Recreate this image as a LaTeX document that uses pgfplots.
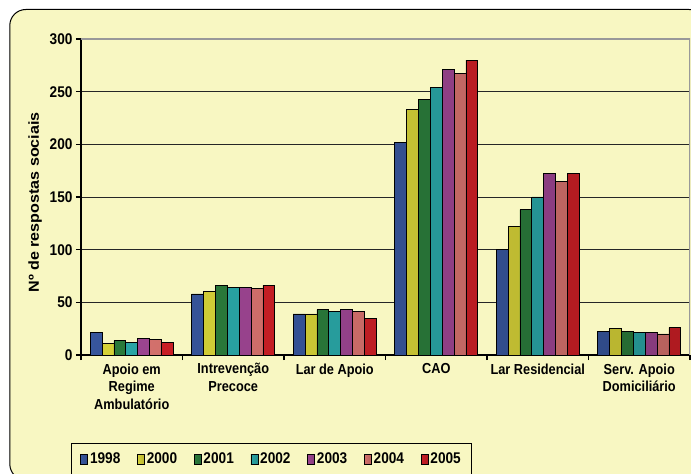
\documentclass[border=0pt]{standalone}
\usepackage{fontspec}
\setmainfont{Liberation Sans}[FakeStretch=0.88]
\newfontfamily\ylfont{Liberation Sans}[FakeStretch=1.11]
\usepackage{pgfplots}
\pgfplotsset{compat=1.18}
\definecolor{bg}{RGB}{248,247,194}
\definecolor{c1}{RGB}{60,93,170}
\definecolor{c2}{RGB}{232,227,60}
\definecolor{c3}{RGB}{46,133,64}
\definecolor{c4}{RGB}{45,179,179}
\definecolor{c5}{RGB}{169,74,156}
\definecolor{c6}{RGB}{229,122,117}
\definecolor{c7}{RGB}{218,33,40}
\pgfplotsset{
  shbar/.style={draw=black, line width=0.8pt, left color=#1!92!black, middle color=#1!88!white, right color=#1!80!black},
}
\begin{document}
\begin{tikzpicture}[x=1pt,y=1pt]
\useasboundingbox (0,0) rectangle (691,474);
\draw[fill=bg, line width=1pt, rounded corners=16pt] (9.8,-6) rectangle (705,464.5);
\begin{axis}[
  at={(81pt,119pt)}, anchor=south west,
  scale only axis, width=609pt, height=316pt,
  xmin=-0.5, xmax=5.5, ymin=0, ymax=300,
  ybar=0pt, bar width=0.117,
  axis x line*=bottom, axis y line*=left,
  x axis line style={-, line width=1.6pt},
  y axis line style={-, line width=1.6pt},
  xtick={-0.5,0.5,1.5,2.5,3.5,4.5,5.5},
  x tick label as interval,
  xticklabels={{Apoio em\\Regime\\Ambulatório},{Intrevenção\\Precoce},{Lar de Apoio},{CAO},{Lar Residencial},{Serv. Apoio\\Domiciliário}},
  ytick={0,50,...,300},
  tick align=outside, major tick length=5pt,
  tick style={black, line width=1.2pt},
  ymajorgrids, grid style={black!85, line width=0.8pt},
  xticklabel style={align=center, anchor=north, font=\fontsize{14.5}{17.5}\selectfont\bfseries},
  yticklabel style={font=\fontsize{15.5}{18}\selectfont\bfseries},
  /pgf/number format/assume math mode=true,
  ylabel={Nº de respostas sociais},
  every axis y label/.style={at={(rel axis cs:-0.0755,0.483)}, rotate=90, anchor=center, font=\ylfont\fontsize{14.5}{17}\selectfont\bfseries},
  legend columns=7,
  legend style={at={(-0.0164,-0.2775)}, anchor=north west, draw=black, line width=0.8pt, fill=none,
    inner xsep=9pt, inner ysep=8pt,
    font=\fontsize{15.5}{18}\selectfont\bfseries,
    /tikz/every even column/.append style={column sep=14.8pt}},
  legend image code/.code={\draw[#1,draw=black,line width=0.6pt] (0pt,-5pt) rectangle (7pt,5pt);},
]
\addplot[shbar=c1] coordinates {(0,21) (1,58) (2,39) (3,202) (4,100) (5,22)};
\addplot[shbar=c2] coordinates {(0,11) (1,60) (2,39) (3,233) (4,122) (5,25)};
\addplot[shbar=c3] coordinates {(0,14) (1,66) (2,43) (3,243) (4,138) (5,22)};
\addplot[shbar=c4] coordinates {(0,12) (1,64) (2,41) (3,254) (4,150) (5,21)};
\addplot[shbar=c5] coordinates {(0,16) (1,64) (2,43) (3,271) (4,172) (5,21)};
\addplot[shbar=c6] coordinates {(0,15) (1,63) (2,41) (3,267) (4,165) (5,20)};
\addplot[shbar=c7] coordinates {(0,12) (1,66) (2,35) (3,280) (4,172) (5,26)};
\legend{1998,2000,2001,2002,2003,2004,2005}
\draw[gray!80, line width=1.5pt] (rel axis cs:0,1) -- (rel axis cs:1,1) -- (rel axis cs:1,0);
\end{axis}
\end{tikzpicture}
\end{document}
